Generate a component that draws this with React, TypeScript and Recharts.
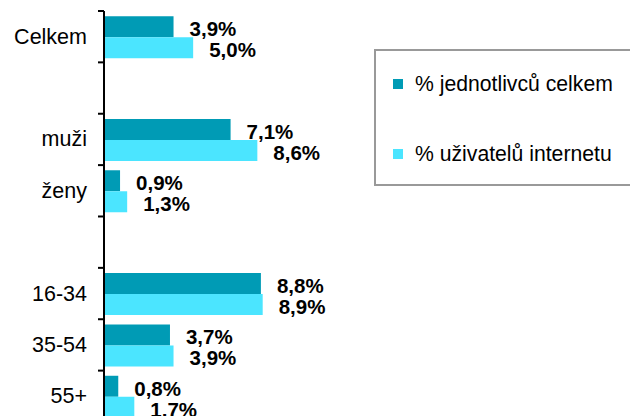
import React from 'react';
import { Bar, BarChart, LabelList, XAxis, YAxis } from 'recharts';

const categories = ['Celkem', '', 'muži', 'ženy', '', '16-34', '35-54', '55+'];
const jednotlivci = [3.9, null, 7.1, 0.9, null, 8.8, 3.7, 0.8];
const uzivatele = [5.0, null, 8.6, 1.3, null, 8.9, 3.9, 1.7];

const seriesNames = ['% jednotlivců celkem', '% uživatelů internetu'];
const darkColor = '#009BB5';
const lightColor = '#4BE5FF';
const font = '"Liberation Sans", Arial, sans-serif';

const data = categories.map((name, i) => ({
  name,
  a: jednotlivci[i],
  b: uzivatele[i],
}));

const fmt = (v: number) => v.toFixed(1).replace('.', ',') + '%';

const ValueLabel = (props: any) => {
  const { x, y, width, height, value } = props;
  if (value === null || value === undefined) return null;
  return (
    <text
      x={x + width + 16}
      y={y + height / 2 + 2}
      fontFamily={font}
      fontSize={20.5}
      fontWeight="bold"
      fill="#000"
      dominantBaseline="central"
    >
      {fmt(value)}
    </text>
  );
};

const CategoryTick = (props: any) => {
  const { x, y, payload } = props;
  const half = 51.4 / 2;
  return (
    <g>
      <line x1={98} x2={104} y1={y - half} y2={y - half} stroke="#000" strokeWidth={2} />
      <text
        x={x - 9}
        y={y}
        textAnchor="end"
        dominantBaseline="central"
        fontFamily={font}
        fontSize={21.5}
        fill="#000"
      >
        {payload.value}
      </text>
    </g>
  );
};

const App: React.FC = () => {
  return (
    <div style={{ position: 'absolute', left: 0, top: 0, width: 630, height: 416, overflow: 'hidden', background: '#fff' }}>
      <BarChart
        width={630}
        height={430}
        data={data}
        layout="vertical"
        margin={{ top: 11, right: 0, left: 0, bottom: 8 }}
        barCategoryGap="10%"
        barGap={0}
      >
        <XAxis
          type="number"
          orientation="top"
          domain={[0, 29.5]}
          height={0}
          tick={false}
          tickLine={false}
          axisLine={{ stroke: '#AAAAAA', strokeWidth: 2 }}
        />
        <YAxis
          type="category"
          dataKey="name"
          width={104}
          tickLine={false}
          axisLine={{ stroke: '#000', strokeWidth: 2 }}
          tick={<CategoryTick />}
          interval={0}
        />
        <Bar dataKey="a" name={seriesNames[0]} fill={darkColor} isAnimationActive={false}>
          <LabelList dataKey="a" content={<ValueLabel />} />
        </Bar>
        <Bar dataKey="b" name={seriesNames[1]} fill={lightColor} isAnimationActive={false}>
          <LabelList dataKey="b" content={<ValueLabel />} />
        </Bar>
      </BarChart>
      <div
        style={{
          position: 'absolute',
          left: 374,
          top: 49,
          width: 270,
          height: 133,
          border: '2px solid #999',
          background: '#fff',
          fontFamily: font,
          fontSize: 21.2,
          color: '#000',
        }}
      >
        {seriesNames.map((n, i) => (
          <div
            key={n}
            style={{ position: 'absolute', left: 17, top: i === 0 ? 21 : 91, display: 'flex', alignItems: 'center', height: 24 }}
          >
            <div style={{ width: 10, height: 10, background: i === 0 ? darkColor : lightColor, marginRight: 12 }} />
            <span style={{ whiteSpace: 'nowrap' }}>{n}</span>
          </div>
        ))}
      </div>
    </div>
  );
};

export default App;
